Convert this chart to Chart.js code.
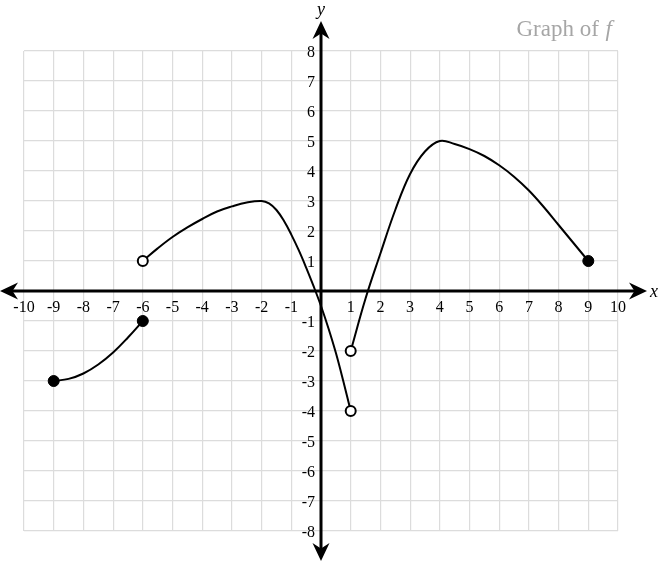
<!DOCTYPE html>
<html>
<head>
<meta charset="utf-8">
<script src="https://cdn.jsdelivr.net/npm/chart.js@4"></script>
<style>
html,body{margin:0;padding:0;background:#fff;}
#wrap{width:665px;height:569px;position:relative;}
</style>
</head>
<body>
<div id="wrap"><canvas id="c"></canvas></div>
<script>
// ---- data ----
const seg1X = [-9, -8.5, -8, -7.5, -7, -6.5, -6];
const seg1Y = [-3, -2.93, -2.75, -2.45, -2.05, -1.55, -1];
const seg2X = [-6, -5.5, -5, -4.5, -4, -3.5, -3, -2.5, -2, -1.75, -1.5, -1.25, -1, -0.75, -0.5, -0.25, 0, 0.25, 0.5, 0.75, 1];
const seg2Y = [1, 1.42, 1.8, 2.12, 2.4, 2.65, 2.82, 2.95, 3, 2.92, 2.7, 2.34, 1.88, 1.36, 0.78, 0.16, -0.5, -1.24, -2.06, -3.0, -4];
const seg3X = [1, 1.5, 2, 2.5, 3, 3.5, 4, 4.5, 5, 5.5, 6, 6.5, 7, 7.5, 8, 8.5, 9];
const seg3Y = [-2, -0.25, 1.25, 2.7, 3.9, 4.65, 5, 4.9, 4.73, 4.5, 4.19, 3.81, 3.35, 2.8, 2.2, 1.6, 1];
const closedX = [-9, -6, 9];
const closedY = [-3, -1, 1];
const openX = [-6, 1, 1];
const openY = [1, -4, -2];
const xTickLabels = [-10,-9,-8,-7,-6,-5,-4,-3,-2,-1,1,2,3,4,5,6,7,8,9,10];
const yTickLabels = [8,7,6,5,4,3,2,1,-1,-2,-3,-4,-5,-6,-7,-8];
const titleText = "Graph of ";
const titleVar = "f";

const pts = (xs, ys) => xs.map((x, i) => ({x: x, y: ys[i]}));

const lineDs = (xs, ys) => ({
  type: 'line', data: pts(xs, ys), borderColor: '#000', borderWidth: 2,
  pointRadius: 0, tension: 0.4, fill: false, clip: false, order: 3
});

const axesPlugin = {
  id: 'axesPlugin',
  beforeDatasetsDraw(chart) {
    const ctx = chart.ctx;
    const xs = chart.scales.x, ys = chart.scales.y;
    const ox = xs.getPixelForValue(0), oy = ys.getPixelForValue(0);
    ctx.save();
    ctx.strokeStyle = '#000';
    ctx.fillStyle = '#000';
    ctx.lineWidth = 3;
    ctx.beginPath(); ctx.moveTo(8, oy); ctx.lineTo(638, oy); ctx.stroke();
    ctx.beginPath(); ctx.moveTo(ox, 30); ctx.lineTo(ox, 552); ctx.stroke();
    function arrow(tx, ty, ang) {
      ctx.save(); ctx.translate(tx, ty); ctx.rotate(ang);
      ctx.beginPath();
      ctx.moveTo(0, 0); ctx.lineTo(-18, -8.5); ctx.lineTo(-12.5, 0); ctx.lineTo(-18, 8.5);
      ctx.closePath(); ctx.fill(); ctx.restore();
    }
    arrow(647, oy, 0);
    arrow(0, oy, Math.PI);
    arrow(ox, 21, -Math.PI / 2);
    arrow(ox, 561, Math.PI / 2);
    ctx.font = '16px "Liberation Serif", "DejaVu Serif", serif';
    ctx.textAlign = 'center'; ctx.textBaseline = 'alphabetic';
    xTickLabels.forEach(v => {
      ctx.fillText(String(v), xs.getPixelForValue(v), oy + 21);
    });
    ctx.textAlign = 'right';
    yTickLabels.forEach(v => {
      ctx.fillText(String(v), ox - 6, ys.getPixelForValue(v) + 6);
    });
    ctx.font = 'italic 18px "Liberation Serif", "DejaVu Serif", serif';
    ctx.textAlign = 'left';
    ctx.fillText('x', 650, oy + 6);
    ctx.textAlign = 'center';
    ctx.fillText('y', ox, 15);
    ctx.fillStyle = '#a6a6a6';
    ctx.font = 'italic 23px "Liberation Serif", "DejaVu Serif", serif';
    const fw = ctx.measureText(titleVar).width;
    ctx.textAlign = 'right';
    ctx.fillText(titleVar, 612, 36);
    ctx.font = '23px "Liberation Serif", "DejaVu Serif", serif';
    ctx.fillText(titleText, 612 - fw - 1, 36);
    ctx.restore();
  }
};

new Chart(document.getElementById('c'), {
  type: 'line',
  data: {
    datasets: [
      { type: 'scatter', data: pts(openX, openY), pointRadius: 5, pointBackgroundColor: '#fff',
        pointBorderColor: '#000', pointBorderWidth: 2, showLine: false, clip: false, order: 1 },
      { type: 'scatter', data: pts(closedX, closedY), pointRadius: 5.5, pointBackgroundColor: '#000',
        pointBorderColor: '#000', pointBorderWidth: 1, showLine: false, clip: false, order: 2 },
      lineDs(seg1X, seg1Y),
      lineDs(seg2X, seg2Y),
      lineDs(seg3X, seg3Y)
    ]
  },
  options: {
    responsive: true, maintainAspectRatio: false, animation: false,
    layout: { padding: { left: 24, right: 47, top: 51, bottom: 38 } },
    plugins: { legend: { display: false }, tooltip: { enabled: false }, title: { display: false } },
    scales: {
      x: { type: 'linear', min: -10, max: 10,
           ticks: { display: false, stepSize: 1 },
           grid: { color: '#dcdcdc', lineWidth: 1.2, drawTicks: false, tickLength: 0 },
           border: { display: false } },
      y: { type: 'linear', min: -8, max: 8,
           ticks: { display: false, stepSize: 1 },
           grid: { color: '#dcdcdc', lineWidth: 1.2, drawTicks: false, tickLength: 0 },
           border: { display: false } }
    }
  },
  plugins: [axesPlugin]
});
</script>
</body>
</html>
